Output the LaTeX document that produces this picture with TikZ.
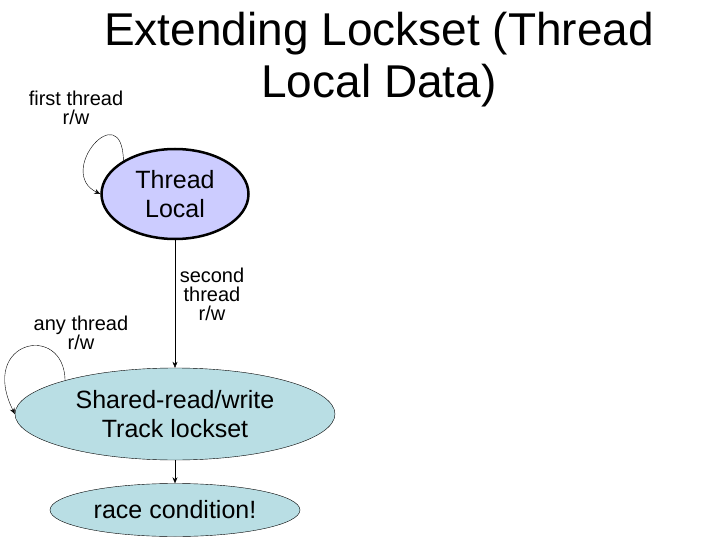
\documentclass[tikz,border=0pt]{standalone}
\usepackage{fontspec}
\setmainfont{Liberation Sans}
\usetikzlibrary{positioning,arrows.meta,shapes.geometric}

\definecolor{localfill}{RGB}{204,204,255}
\definecolor{sharedfill}{RGB}{185,222,228}

\begin{document}
\begin{tikzpicture}[
    x=1pt, y=-1pt,
    % Styles
    state/.style={
        draw=black, ellipse, fill=#1, inner sep=0pt,
        font=\fontsize{25}{29}\selectfont, align=center,
    },
    state/.default={sharedfill},
    arr/.style={-{Stealth[length=6pt,width=5pt]}, thin, black},
    lbl/.style={font=\fontsize{20}{19}\selectfont, align=center, inner sep=0pt},
    title/.style={font=\fontsize{46}{52}\selectfont, align=center},
]
\useasboundingbox (0,0) rectangle (720,540);

% ================================================================
% TITLE
% ================================================================
\node[title] (title) at (379,60) {Extending Lockset (Thread\\Local Data)};

% ================================================================
% STATES
% ================================================================
\node[state=localfill, line width=2.5pt, minimum width=147pt, minimum height=90pt]
    (local) at (175,194) {Thread\\Local};
\node[state, minimum width=320pt, minimum height=92pt]
    (shared) at (175,414) {Shared-read/write\\Track lockset};
\node[state, minimum width=250pt, minimum height=53pt]
    (race) at (175,510) {race condition!};

% ================================================================
% ARROWS
% ================================================================

% first thread self loop
\draw[arr] (local.147) .. controls (122,95) and (55,172) .. (local.west);
\node[lbl] (firstlbl) at (76,108) {first thread\\r/w};

% Thread Local -> Shared
\draw[arr] (local.south) -- (shared.north);
\node[lbl] (secondlbl) at (212,294) {second\\thread\\r/w};

% any thread self loop
\draw[arr] (shared.163) .. controls (64,322) and (-22,340) .. (shared.west);
\node[lbl] (anylbl) at (81,333) {any thread\\r/w};

% Shared -> race
\draw[arr] (shared.south) -- (race.north);

\end{tikzpicture}
\end{document}
